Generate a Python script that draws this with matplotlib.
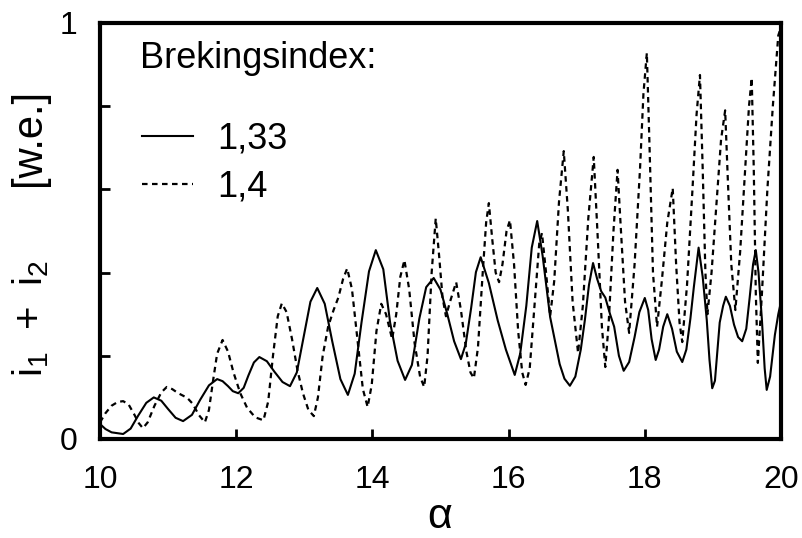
import matplotlib
matplotlib.use("Agg")
import matplotlib.pyplot as plt

plt.rcParams['font.family'] = ['Liberation Sans', 'DejaVu Sans']
plt.rcParams['mathtext.fontset'] = 'custom'
plt.rcParams['mathtext.rm'] = 'Liberation Sans'

# size parameter alpha and i1 + i2 (arbitrary units)
alpha_133 = [10.00, 10.08, 10.17, 10.34, 10.45, 10.56, 10.68, 10.79, 10.90, 11.00,
             11.11, 11.22, 11.35, 11.47, 11.60, 11.72, 11.80, 11.88, 11.95, 12.03,
             12.11, 12.18, 12.26, 12.34, 12.45, 12.56, 12.68, 12.79, 12.89, 12.99,
             13.09, 13.19, 13.30, 13.41, 13.53, 13.64, 13.74, 13.84, 13.95, 14.05,
             14.16, 14.26, 14.37, 14.48, 14.58, 14.69, 14.79, 14.90, 15.00, 15.10,
             15.20, 15.30, 15.37, 15.45, 15.52, 15.59, 15.71, 15.84, 15.96, 16.09,
             16.17, 16.26, 16.34, 16.42, 16.50, 16.61, 16.75, 16.82, 16.90, 16.98,
             17.06, 17.12, 17.18, 17.24, 17.30, 17.36, 17.42, 17.49, 17.55, 17.62,
             17.69, 17.77, 17.85, 17.92, 18.00, 18.05, 18.10, 18.16, 18.21, 18.27,
             18.33, 18.40, 18.47, 18.55, 18.61, 18.67, 18.72, 18.79, 18.85, 18.91,
             18.95, 18.99, 19.03, 19.10, 19.15, 19.19, 19.25, 19.31, 19.37, 19.43,
             19.49, 19.54, 19.59, 19.63, 19.67, 19.72, 19.76, 19.79, 19.84, 19.91,
             19.96, 20.00]
i_133 = [0.036, 0.024, 0.016, 0.012, 0.025, 0.056, 0.087, 0.100, 0.092, 0.072,
         0.051, 0.043, 0.058, 0.094, 0.129, 0.144, 0.139, 0.127, 0.115, 0.110,
         0.123, 0.153, 0.184, 0.197, 0.187, 0.162, 0.137, 0.127, 0.160, 0.245,
         0.330, 0.363, 0.325, 0.235, 0.144, 0.106, 0.157, 0.280, 0.403, 0.454,
         0.408, 0.280, 0.188, 0.142, 0.178, 0.290, 0.365, 0.387, 0.359, 0.300,
         0.235, 0.192, 0.228, 0.315, 0.401, 0.437, 0.375, 0.285, 0.215, 0.154,
         0.205, 0.320, 0.460, 0.524, 0.440, 0.293, 0.180, 0.145, 0.128, 0.150,
         0.215, 0.286, 0.370, 0.423, 0.385, 0.355, 0.340, 0.300, 0.270, 0.200,
         0.164, 0.185, 0.245, 0.305, 0.339, 0.310, 0.240, 0.190, 0.215, 0.270,
         0.300, 0.265, 0.210, 0.185, 0.215, 0.290, 0.365, 0.460, 0.390, 0.286,
         0.190, 0.122, 0.140, 0.280, 0.320, 0.342, 0.320, 0.275, 0.245, 0.235,
         0.265, 0.340, 0.420, 0.454, 0.400, 0.286, 0.170, 0.118, 0.150, 0.250,
         0.300, 0.330]

alpha_14 = [10.00, 10.08, 10.17, 10.26, 10.34, 10.42, 10.50, 10.57, 10.63, 10.70,
            10.80, 10.90, 10.98, 11.06, 11.15, 11.28, 11.36, 11.45, 11.54, 11.60,
            11.66, 11.72, 11.80, 11.88, 11.96, 12.06, 12.16, 12.28, 12.40, 12.47,
            12.54, 12.61, 12.67, 12.74, 12.82, 12.90, 12.98, 13.06, 13.14, 13.20,
            13.27, 13.35, 13.43, 13.50, 13.57, 13.63, 13.70, 13.78, 13.86, 13.93,
            13.99, 14.06, 14.13, 14.20, 14.29, 14.35, 14.41, 14.47, 14.54, 14.62,
            14.70, 14.76, 14.81, 14.87, 14.93, 14.98, 15.03, 15.08, 15.14, 15.23,
            15.30, 15.38, 15.44, 15.49, 15.55, 15.62, 15.67, 15.71, 15.76, 15.81,
            15.86, 15.91, 15.97, 16.02, 16.08, 16.14, 16.20, 16.25, 16.31, 16.38,
            16.45, 16.49, 16.55, 16.61, 16.67, 16.74, 16.81, 16.87, 16.94, 17.02,
            17.09, 17.17, 17.25, 17.31, 17.37, 17.42, 17.47, 17.54, 17.60, 17.65,
            17.71, 17.77, 17.85, 17.93, 17.98, 18.03, 18.07, 18.12, 18.18, 18.25,
            18.33, 18.41, 18.46, 18.51, 18.55, 18.62, 18.70, 18.76, 18.81, 18.85,
            18.89, 18.92, 18.98, 19.05, 19.12, 19.18, 19.22, 19.27, 19.33, 19.40,
            19.47, 19.53, 19.57, 19.60, 19.63, 19.66, 19.72, 19.80, 19.88, 19.96,
            20.00]
i_14 = [0.040, 0.062, 0.080, 0.089, 0.091, 0.083, 0.060, 0.038, 0.026, 0.040,
        0.080, 0.112, 0.125, 0.120, 0.110, 0.099, 0.085, 0.058, 0.040, 0.070,
        0.140, 0.205, 0.238, 0.210, 0.160, 0.110, 0.075, 0.052, 0.045, 0.090,
        0.200, 0.295, 0.326, 0.305, 0.240, 0.165, 0.110, 0.070, 0.055, 0.100,
        0.200, 0.270, 0.310, 0.340, 0.385, 0.410, 0.360, 0.240, 0.120, 0.077,
        0.130, 0.260, 0.325, 0.300, 0.240, 0.300, 0.390, 0.430, 0.360, 0.230,
        0.150, 0.125, 0.200, 0.400, 0.530, 0.440, 0.340, 0.295, 0.330, 0.377,
        0.310, 0.210, 0.160, 0.146, 0.220, 0.400, 0.520, 0.567, 0.480, 0.400,
        0.377, 0.420, 0.500, 0.526, 0.420, 0.260, 0.160, 0.130, 0.170, 0.320,
        0.470, 0.495, 0.400, 0.295, 0.380, 0.570, 0.692, 0.550, 0.330, 0.207,
        0.320, 0.530, 0.678, 0.480, 0.270, 0.173, 0.280, 0.500, 0.647, 0.500,
        0.330, 0.255, 0.420, 0.650, 0.830, 0.928, 0.700, 0.400, 0.270, 0.380,
        0.520, 0.603, 0.420, 0.280, 0.233, 0.370, 0.600, 0.780, 0.875, 0.650,
        0.400, 0.300, 0.400, 0.560, 0.720, 0.790, 0.620, 0.420, 0.310, 0.450,
        0.640, 0.800, 0.868, 0.650, 0.350, 0.183, 0.350, 0.600, 0.800, 0.970,
        0.990]

x_ticks = [10, 12, 14, 16, 18, 20]
y_ticks = [0, 0.2, 0.4, 0.6, 0.8, 1]
y_ticklabels = ['0', '', '', '', '', '1']

fig = plt.figure(figsize=(8.02, 5.38), dpi=100)
ax = fig.add_axes([100 / 802, 99 / 538, 681 / 802, 416 / 538])

ax.plot(alpha_133, i_133, color='black', lw=1.5, label='1,33')
ax.plot(alpha_14, i_14, color='black', lw=1.6, ls=(0, (2.5, 2.0)), label='1,4')

ax.set_xlim(10, 20)
ax.set_ylim(0, 1)
ax.set_xticks(x_ticks)
ax.set_yticks(y_ticks)
ax.set_yticklabels(y_ticklabels)
ax.tick_params(direction='in', length=7, width=2, labelsize=23)
ax.tick_params(axis='x', pad=19)
ax.tick_params(axis='y', pad=16)
for s in ax.spines.values():
    s.set_linewidth(3)

# axis labels
fig.text(440 / 802, 1 / 538, 'α', fontsize=31, ha='center', va='bottom')
fig.text(29 / 802, (538 - 137) / 538, '[w.e.]', rotation=90, fontsize=30,
         ha='center', va='center')
fig.text(31 / 802, (538 - 318) / 538, r'$\mathregular{i_1\ +\ i_2}$', rotation=90,
         fontsize=29, ha='center', va='center')

# legend with its heading
ax.text(0.059, 0.892, 'Brekingsindex:', transform=ax.transAxes, fontsize=26,
        va='baseline', ha='left')
ax.legend(loc='upper left', bbox_to_anchor=(0.0617, 0.764), frameon=False,
          fontsize=26, handlelength=1.42, handletextpad=0.67, labelspacing=0.36,
          borderaxespad=0, borderpad=0)

fig.savefig('out.png', dpi=100)
